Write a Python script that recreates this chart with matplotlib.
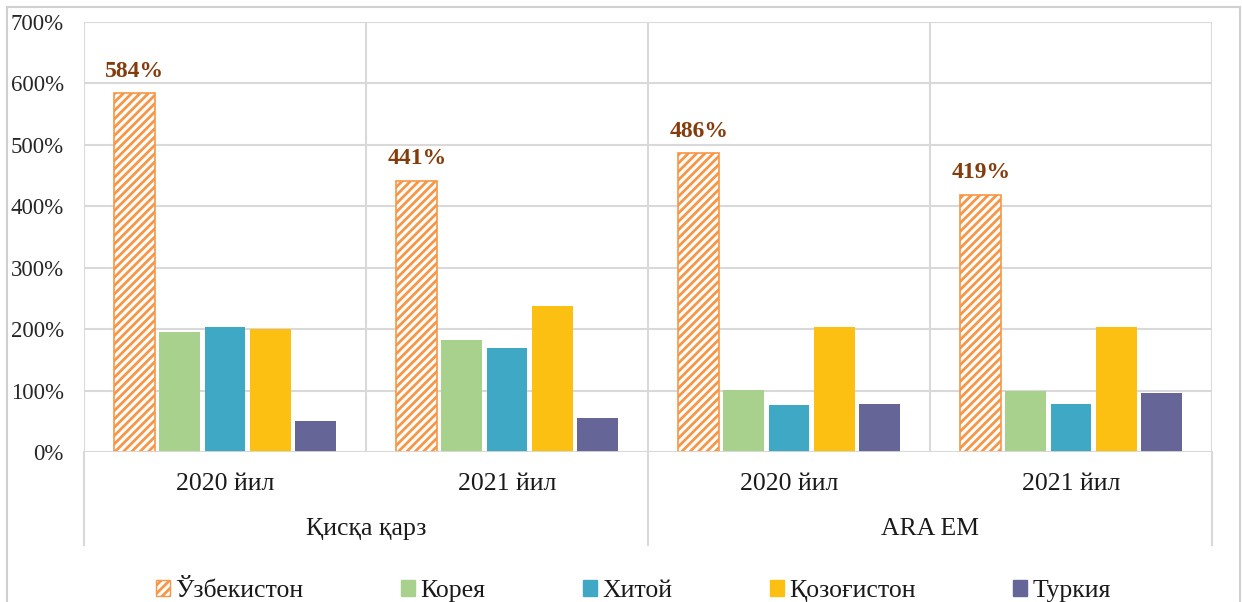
import numpy as np
import matplotlib
matplotlib.use("Agg")
import matplotlib.pyplot as plt
from matplotlib.patches import Patch, Rectangle
from matplotlib.lines import Line2D

plt.rcParams['font.family'] = ['Liberation Serif', 'DejaVu Serif']
plt.rcParams['hatch.linewidth'] = 2.0

# data
years = ['2020 йил', '2021 йил', '2020 йил', '2021 йил']
groups = ['Қисқа қарз', 'ARA EM']
countries = ['Ўзбекистон', 'Корея', 'Хитой', 'Қозоғистон', 'Туркия']
uzb = [584, 441, 486, 419]
korea = [196, 182, 101, 100]
china = [204, 169, 76, 78]
kaz = [201, 237, 203, 203]
turkey = [50, 56, 78, 96]
series = [uzb, korea, china, kaz, turkey]
colors = ['#F79646', '#A9D18E', '#3FA9C5', '#FBC012', '#656597']

fig = plt.figure(figsize=(12.42, 6.02), dpi=100)
# outer chart frame (bottom edge falls outside the image, as in the source)
fig.patches.append(Rectangle((7 / 1242, -0.05), 1233 / 1242, 1.05 - 7 / 602, transform=fig.transFigure,
                             fill=False, edgecolor='#D0D0D0', lw=1.5))
ax = fig.add_axes([84 / 1242, 1 - 452 / 602, 1128 / 1242, 430 / 602])

x = np.arange(len(years))
step = 0.16
width = 0.145
for i, (vals, c) in enumerate(zip(series, colors)):
    pos = x + (i - 2) * step
    if i == 0:
        ax.bar(pos, vals, width, facecolor='white', edgecolor=c, hatch='////', lw=1.2, zorder=3)
        for px, v in zip(pos, vals):
            ax.annotate(f'{v}%', (px, v), xytext=(0, 16), textcoords='offset points',
                        ha='center', va='center', fontsize=17, fontweight='bold', color='#843C0C')
    else:
        ax.bar(pos, vals, width, color=c, zorder=3)

ax.set_xlim(-0.5, 3.5)
ax.set_ylim(0, 700)
ax.set_yticks(np.arange(0, 701, 100))
ax.set_yticklabels([f'{v}%' for v in range(0, 701, 100)])
ax.yaxis.grid(True, color='#D9D9D9', lw=1.5, zorder=0)
for xv in np.arange(-0.5, 4, 1):
    ax.axvline(xv, color='#D9D9D9', lw=1.5, zorder=0)
for s in ax.spines.values():
    s.set_visible(False)
ax.axhline(0, color='#D9D9D9', lw=2, zorder=4)
ax.tick_params(axis='y', length=0, pad=14.5, labelsize=16.5, labelcolor='#262626')
ax.tick_params(axis='x', length=0)
ax.set_xticks([])

# category labels below axis
for xi, lab in zip(x, years):
    ax.text(xi, -0.075, lab, transform=ax.get_xaxis_transform(), ha='center', va='center',
            fontsize=18.5, color='#1a1a1a')
for gi, g in enumerate(groups):
    ax.text(2 * gi + 0.5, -0.18, g, transform=ax.get_xaxis_transform(), ha='center', va='center',
            fontsize=18.5, color='#1a1a1a')
for xv in [-0.5, 1.5, 3.5]:
    ax.add_line(Line2D([xv, xv], [0, -0.216], transform=ax.get_xaxis_transform(),
                       color='#D9D9D9', lw=1.5, clip_on=False))

handles = [Patch(facecolor='white', edgecolor=colors[0], hatch='////', lw=1.0)]
handles += [Patch(facecolor=c, edgecolor=c) for c in colors[1:]]
fig.legend(handles, countries, loc='center', bbox_to_anchor=(0.51, 1 - 591 / 602), ncol=5,
           frameon=False, fontsize=18.5, handlelength=0.55, handleheight=0.55, handletextpad=0.2,
           columnspacing=3.8, labelcolor='#1a1a1a', borderpad=0)

fig.savefig('out.png', dpi=100)
